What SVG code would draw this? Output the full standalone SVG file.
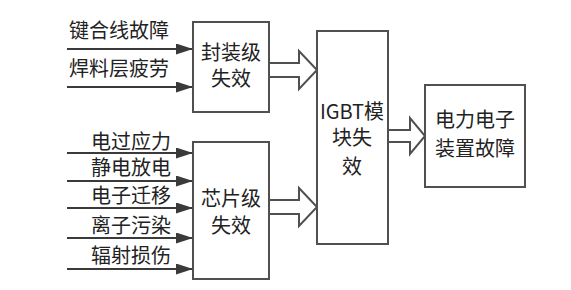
<svg xmlns="http://www.w3.org/2000/svg" width="571" height="290" viewBox="0 0 571 290">
<style>
.box{fill:#fff;stroke:#505050;stroke-width:2}
.ln{stroke:#3a3a3a;stroke-width:2;fill:none}
.hollow{fill:#fff;stroke:#505050;stroke-width:2;stroke-linejoin:miter}
text{font-family:"Noto Sans CJK SC","Noto Sans",sans-serif;font-size:20px;fill:#222}
.c{text-anchor:middle}
.r{text-anchor:end}
</style>
<defs>
<marker id="ah" markerUnits="userSpaceOnUse" markerWidth="18" markerHeight="12" refX="17" refY="5.5" orient="auto">
<path d="M0,0 L17,5.5 L0,11 Z" fill="#3a3a3a"/>
</marker>
</defs>
<rect width="571" height="290" fill="#fff"/>
<g id="connectors">
<line class="ln" x1="67" y1="49" x2="193" y2="49" marker-end="url(#ah)"/>
<line class="ln" x1="67" y1="87" x2="193" y2="87" marker-end="url(#ah)"/>
<line class="ln" x1="67" y1="153" x2="193" y2="153" marker-end="url(#ah)"/>
<line class="ln" x1="67" y1="181" x2="193" y2="181" marker-end="url(#ah)"/>
<line class="ln" x1="67" y1="208" x2="193" y2="208" marker-end="url(#ah)"/>
<line class="ln" x1="67" y1="238" x2="193" y2="238" marker-end="url(#ah)"/>
<line class="ln" x1="67" y1="269" x2="193" y2="269" marker-end="url(#ah)"/>
<path class="hollow" d="M269,63 L299,63 L299,51 L317,70 L299,89 L299,77 L269,77"/>
<path class="hollow" d="M269,200 L299,200 L299,188 L317,207 L299,226 L299,214 L269,214"/>
<path class="hollow" d="M388,130 L410,130 L410,118 L425,136 L410,154 L410,142 L388,142"/>
</g>
<g id="labels">
<text x="69" y="38">键合线故障</text>
<text x="69" y="76">焊料层疲劳</text>
<text class="r" x="171" y="149">电过应力</text>
<text class="r" x="171" y="175">静电放电</text>
<text class="r" x="171" y="203">电子迁移</text>
<text class="r" x="171" y="233">离子污染</text>
<text class="r" x="171" y="263">辐射损伤</text>
</g>
<g id="node-package">
<rect class="box" x="193" y="22" width="76" height="90"/>
<text class="c" x="231" y="60">封装级</text>
<text class="c" x="231" y="86">失效</text>
</g>
<g id="node-chip">
<rect class="box" x="193" y="142" width="76" height="137"/>
<text class="c" x="231" y="206">芯片级</text>
<text class="c" x="231" y="233">失效</text>
</g>
<g id="node-igbt">
<rect class="box" x="317" y="31" width="71" height="213"/>
<text class="c" x="352" y="119">IGBT模</text>
<text class="c" x="352" y="145">块失</text>
<text class="c" x="352" y="174">效</text>
</g>
<g id="node-device">
<rect class="box" x="425" y="85" width="100" height="102"/>
<text class="c" x="475" y="127">电力电子</text>
<text class="c" x="475" y="156">装置故障</text>
</g>
</svg>
